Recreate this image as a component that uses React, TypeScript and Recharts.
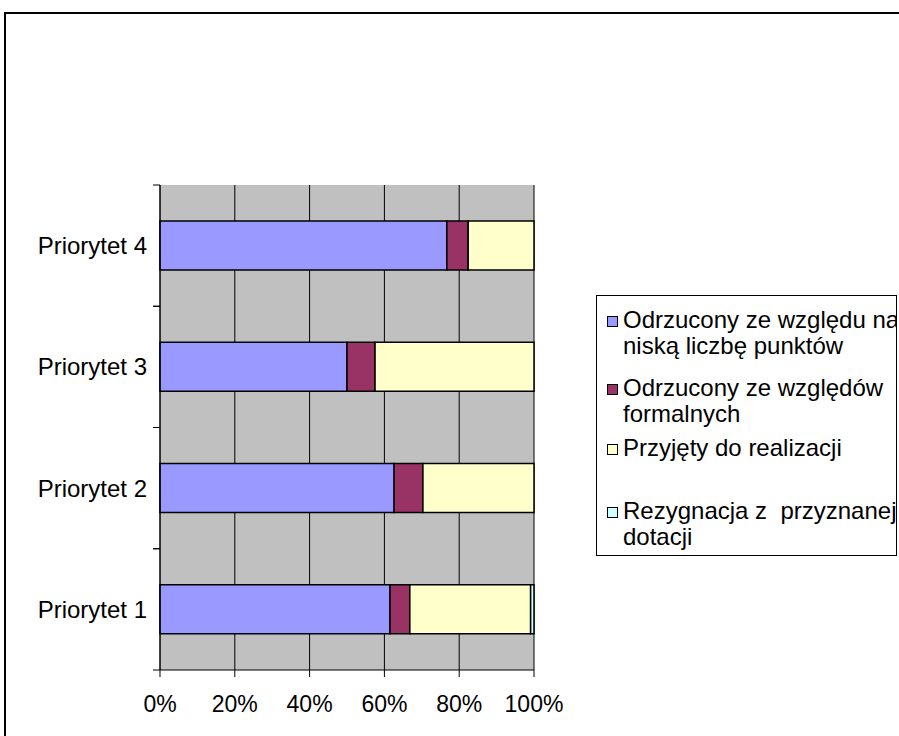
import { BarChart, Bar, XAxis, YAxis, CartesianGrid } from "recharts";

const categories = ["Priorytet 1", "Priorytet 2", "Priorytet 3", "Priorytet 4"];
const odrzuconyPunkty = [61.5, 62.6, 50.0, 76.7];
const odrzuconyFormalne = [5.3, 7.7, 7.5, 5.7];
const przyjety = [32.3, 29.7, 42.5, 17.6];
const rezygnacja = [0.9, 0, 0, 0];
const xTicks = [0, 0.2, 0.4, 0.6, 0.8, 1];

const series = [
    { key: "punkty", name: "Odrzucony ze względu na niską liczbę punktów", lines: ["Odrzucony ze względu na", "niską liczbę punktów"], color: "#9999FF", values: odrzuconyPunkty },
    { key: "formalne", name: "Odrzucony ze względów formalnych", lines: ["Odrzucony ze względów", "formalnych"], color: "#993366", values: odrzuconyFormalne },
    { key: "przyjety", name: "Przyjęty do realizacji", lines: ["Przyjęty do realizacji"], color: "#FFFFCC", values: przyjety },
    { key: "rezygnacja", name: "Rezygnacja z  przyznanej dotacji", lines: ["Rezygnacja z  przyznanej", "dotacji"], color: "#CCFFFF", values: rezygnacja },
];

const chartData = categories.map((name, i) => {
    const row: any = { name };
    series.forEach(s => { row[s.key] = s.values[i]; });
    return row;
});

const FONT = "'Liberation Sans', Arial, sans-serif";
const PLOT_TOP = 185;
const PLOT_BOTTOM = 670;
const band = (PLOT_BOTTOM - PLOT_TOP) / categories.length;

// category label plus the small tick marks at the band edges
const CategoryTick = (props: any) => {
    const { x, y, payload } = props;
    return (
        <g>
            <line x1={x + 6} x2={x + 13} y1={y - band / 2} y2={y - band / 2} stroke="#000" />
            <line x1={x + 6} x2={x + 13} y1={y + band / 2} y2={y + band / 2} stroke="#000" />
            <text x={x} y={y} dy="0.35em" textAnchor="end" fontSize={24} fill="#000" fontFamily={FONT}>
                {payload.value}
            </text>
        </g>
    );
};

// item tops inside the legend box
const legendTops = [11, 79, 139, 202];

export default function App() {
    return (
        <div style={{ position: "absolute", left: 0, top: 0, width: 899, height: 736, overflow: "hidden", background: "#fff", fontFamily: FONT }}>
            <div style={{ position: "absolute", left: 4, top: 12, width: 920, height: 760, border: "2px solid #000", boxSizing: "border-box" }} />
            <div style={{ position: "absolute", left: 0, top: 0 }}>
                <BarChart
                    width={899}
                    height={736}
                    data={chartData}
                    layout="vertical"
                    stackOffset="expand"
                    barSize={49}
                    margin={{ top: PLOT_TOP, right: 365, bottom: 6, left: 10 }}
                >
                    <CartesianGrid horizontal={false} stroke="#000" fill="#C0C0C0" fillOpacity={1} />
                    <XAxis
                        type="number"
                        domain={[0, 1]}
                        ticks={xTicks}
                        tickFormatter={(v: number) => `${Math.round(v * 100)}%`}
                        height={60}
                        tickSize={7}
                        tickMargin={19}
                        stroke="#000"
                        tick={{ fontSize: 23, fill: "#000", fontFamily: FONT }}
                        interval={0}
                    />
                    <XAxis xAxisId="top" orientation="top" type="number" domain={[0, 1]} height={0} tick={false} tickLine={false} stroke="#808080" />
                    <YAxis
                        type="category"
                        dataKey="name"
                        reversed
                        width={150}
                        tickSize={7}
                        tickMargin={6}
                        tickLine={false}
                        stroke="#000"
                        tick={<CategoryTick />}
                        interval={0}
                    />
                    <YAxis yAxisId="right" orientation="right" type="category" dataKey="name" width={0} tick={false} tickLine={false} stroke="#808080" />
                    {series.map(s => (
                        <Bar
                            key={s.key}
                            dataKey={s.key}
                            name={s.name}
                            stackId="a"
                            fill={s.color}
                            stroke="#000"
                            strokeWidth={1.5}
                            isAnimationActive={false}
                        />
                    ))}
                </BarChart>
            </div>
            <div style={{ position: "absolute", left: 596, top: 295, width: 301, height: 261, border: "1px solid #000", boxSizing: "border-box", overflow: "hidden", background: "#fff" }}>
                {series.map((s, i) => (
                    <div key={s.key} style={{ position: "absolute", left: 0, top: legendTops[i], whiteSpace: "pre" }}>
                        <div style={{ position: "absolute", left: 10, top: 9, width: 9, height: 9, background: s.color, border: "1px solid #000" }} />
                        {s.lines.map((line, j) => (
                            <div key={j} style={{ marginLeft: 26, fontSize: 24, lineHeight: "26px", color: "#000" }}>{line}</div>
                        ))}
                    </div>
                ))}
            </div>
        </div>
    );
}
